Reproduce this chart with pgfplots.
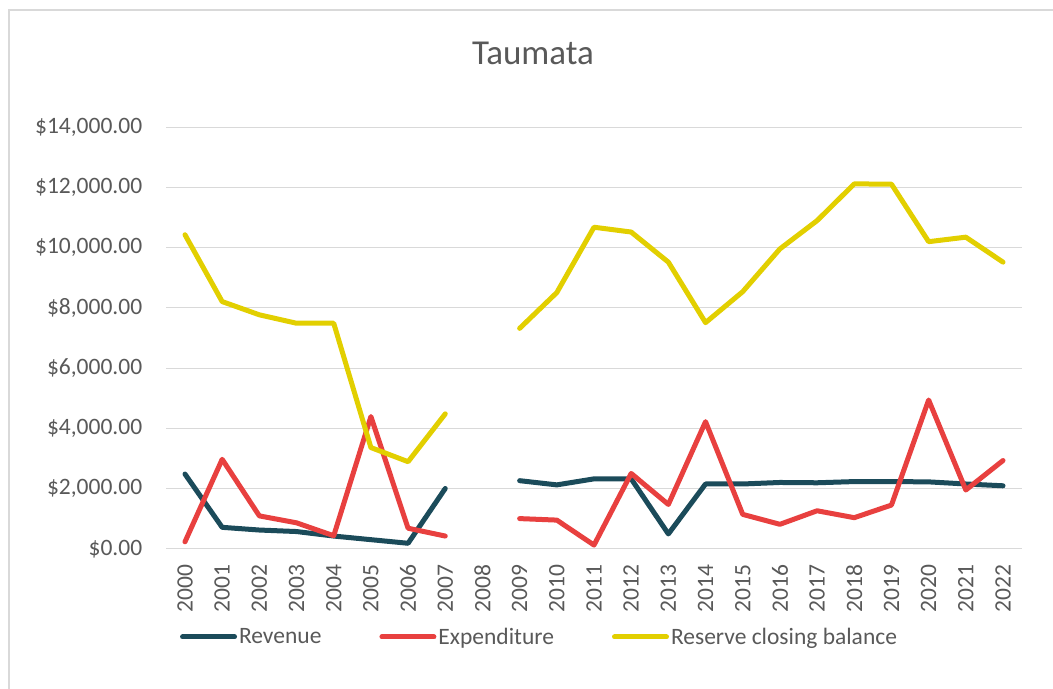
\documentclass[border=0pt]{standalone}
\usepackage{pgfplots}
\pgfplotsset{compat=1.18}
\usepackage{pgfplotstable}
\usepackage{fontspec}
\setmainfont{Carlito}
\definecolor{revc}{HTML}{1B4B5A}
\definecolor{expc}{HTML}{E8403F}
\definecolor{resc}{HTML}{E2CF00}
\definecolor{textgray}{HTML}{595959}
\definecolor{gridgray}{HTML}{D9D9D9}
\pgfplotstableread{
x rev exp res
0 2480 230 10430
1 710 2970 8210
2 620 1090 7770
3 570 860 7490
4 420 430 7490
5 300 4390 3360
6 180 680 2890
7 2000 420 4480
8 nan nan nan
9 2260 1000 7320
10 2120 950 8510
11 2320 120 10680
12 2320 2500 10520
13 490 1470 9520
14 2150 4220 7510
15 2150 1140 8540
16 2200 810 9960
17 2190 1260 10900
18 2230 1030 12120
19 2230 1450 12110
20 2220 4940 10200
21 2150 1950 10350
22 2090 2930 9520
}\datatable
\begin{document}
\begin{tikzpicture}
\useasboundingbox (0,0) rectangle (1053bp,689bp);
\draw[gridgray, line width=1.2bp] (9bp,0bp) -- (9bp,679bp) -- (1053bp,679bp);
\node[text=textgray, anchor=base, font=\fontsize{35bp}{42bp}\selectfont] at (533bp,624bp) {Taumata};
\begin{axis}[
  at={(166.4bp,140.3bp)}, anchor=south west,
  scale only axis, width=855.2bp, height=421.4bp,
  xmin=-0.5, xmax=22.5, ymin=0, ymax=14000,
  scaled y ticks=false,
  unbounded coords=jump,
  axis line style={draw=none},
  major tick length=0pt,
  ymajorgrids, grid style={gridgray, line width=1.1bp},
  xtick={0,...,22},
  xticklabels={2000,2001,2002,2003,2004,2005,2006,2007,2008,2009,2010,2011,2012,2013,2014,2015,2016,2017,2018,2019,2020,2021,2022},
  ytick={0,2000,4000,6000,8000,10000,12000,14000},
  yticklabels={{\$0.00},{\$2,000.00},{\$4,000.00},{\$6,000.00},{\$8,000.00},{\$10,000.00},{\$12,000.00},{\$14,000.00}},
  tick label style={text=textgray, font=\fontsize{23.5bp}{28bp}\selectfont, inner sep=0pt},
  xticklabel style={rotate=90, anchor=east},
  xticklabel shift=16bp,
  yticklabel style={anchor=east},
  yticklabel shift=24bp,
  legend columns=3,
  legend style={draw=none, fill=none, at={(0.4363,-0.2095)}, anchor=center,
    font=\fontsize{23.5bp}{28bp}\selectfont, text=textgray,
    nodes={inner sep=2bp},
    /tikz/every even column/.append style={column sep=56bp}},
  legend image code/.code={\draw[#1, line cap=round] (0bp,0bp) -- (52bp,0bp);},
  every axis plot/.append style={line width=5bp, line join=round, line cap=round, mark=none},
]
\addplot[revc] table[x=x, y=rev] {\datatable};
\addlegendentry{Revenue}
\addplot[expc] table[x=x, y=exp] {\datatable};
\addlegendentry{Expenditure}
\addplot[resc] table[x=x, y=res] {\datatable};
\addlegendentry{Reserve closing balance}
\end{axis}
\end{tikzpicture}
\end{document}
